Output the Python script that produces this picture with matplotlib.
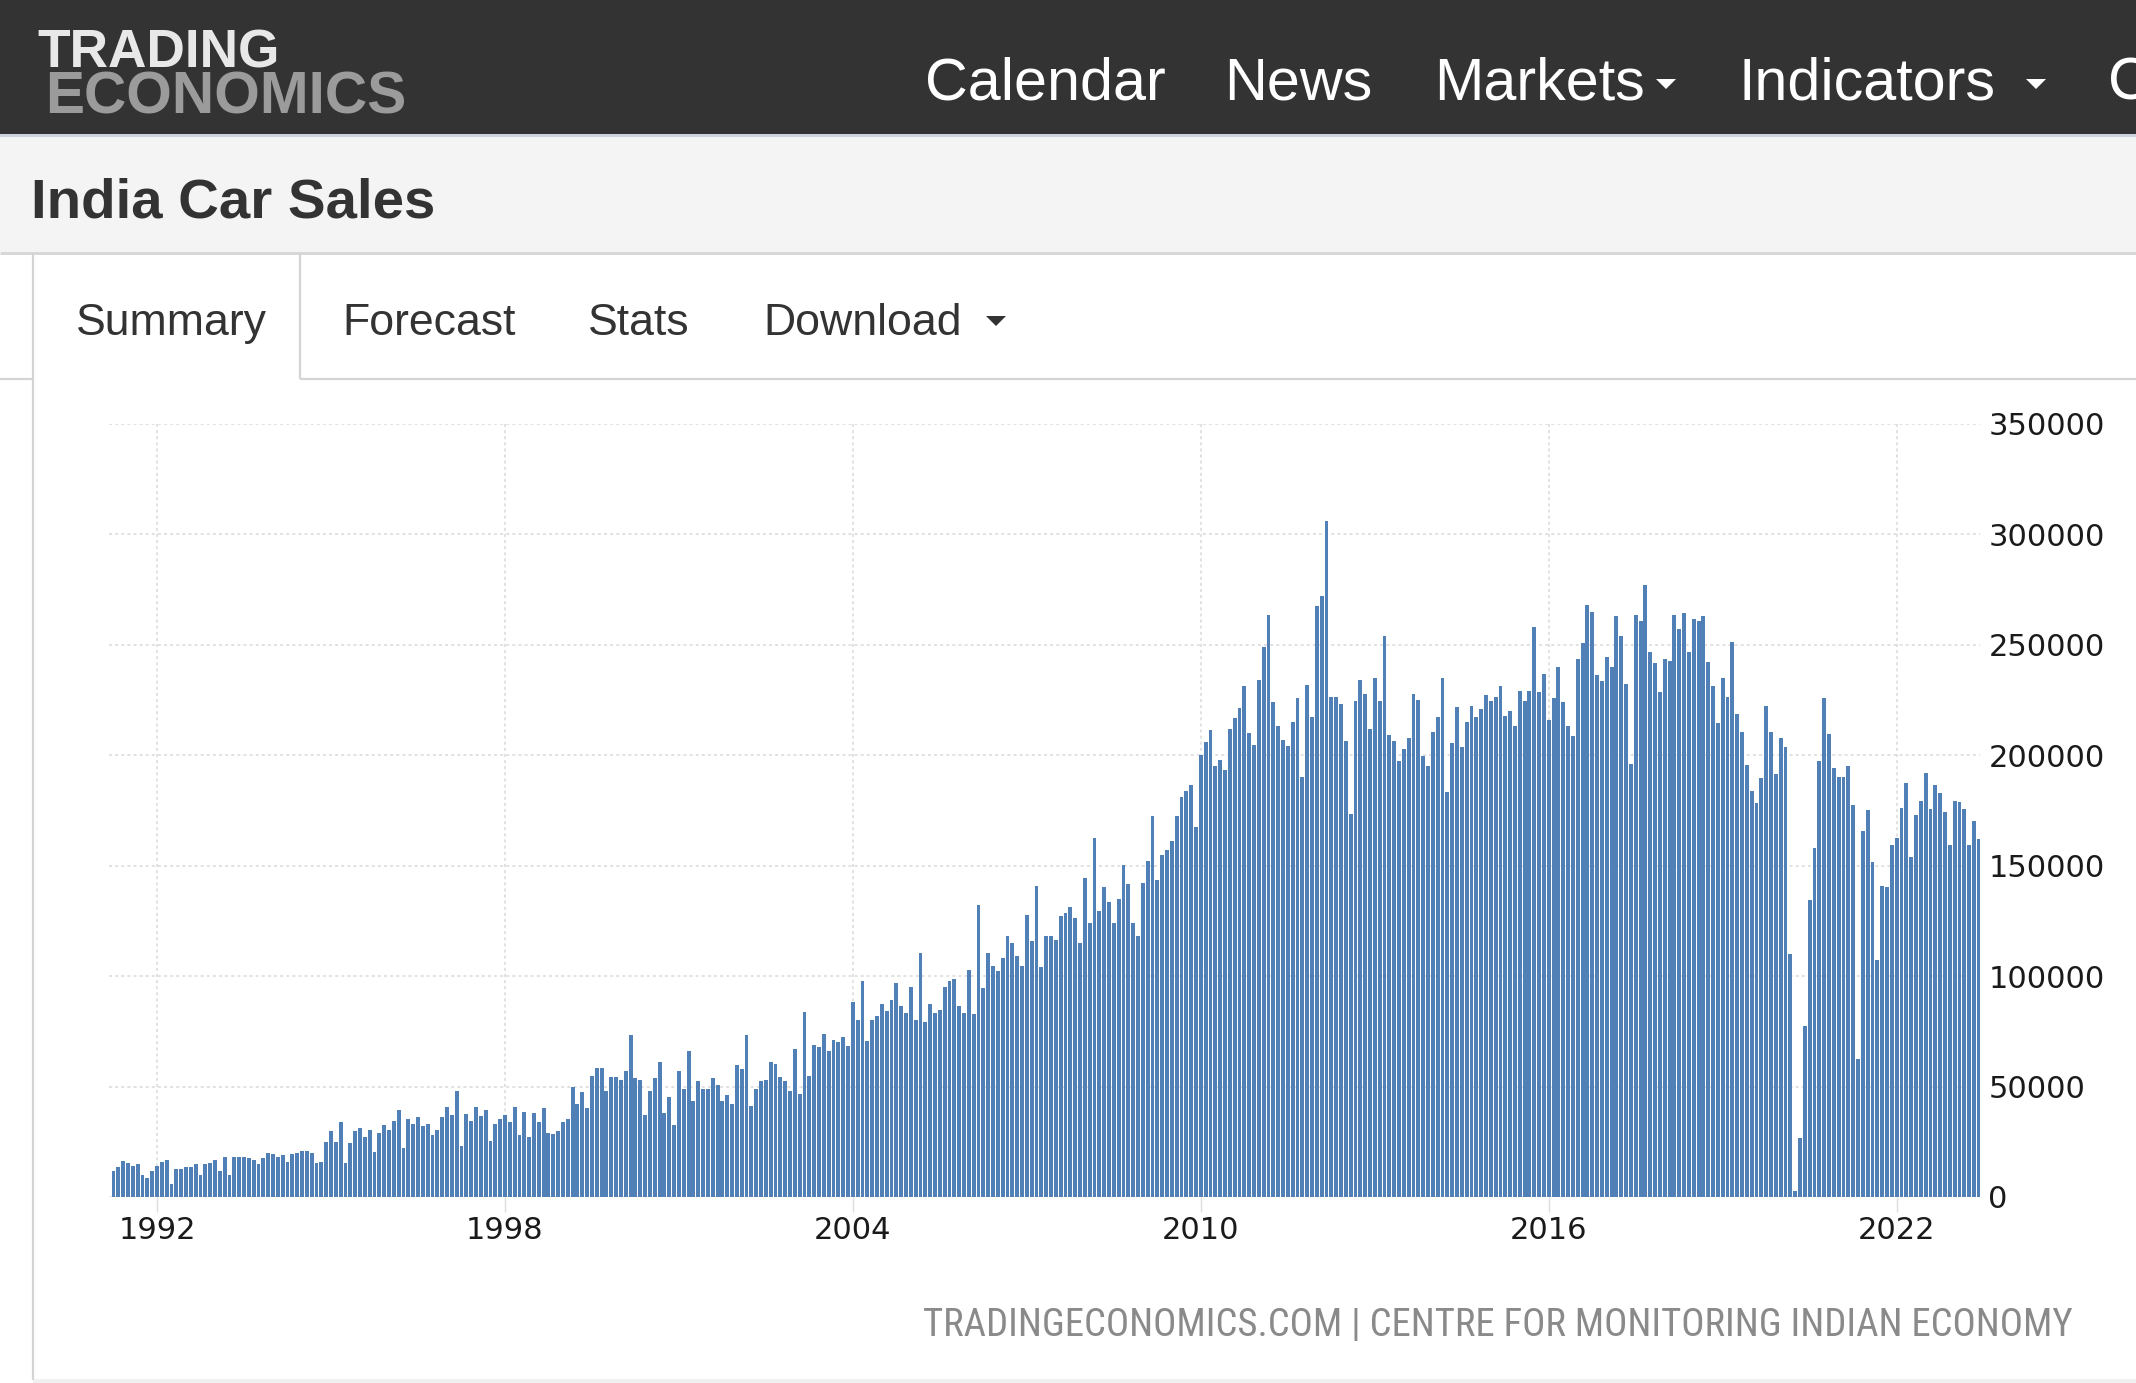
import matplotlib
matplotlib.use("Agg")
import matplotlib.pyplot as plt
from matplotlib.patches import Rectangle, Polygon
from matplotlib import font_manager
import pandas as pd

W, H = 2136, 1383

# ---------------- data ----------------
start_month = "1991-04-01"
sales = [
    11900, 13400, 16200, 15400, 14200, 14800, 10100, 8800, 11900, 14200, 16000, 16800,
    5800, 12700, 12700, 13400, 13400, 14800, 10100, 14800, 15400, 16800, 11900, 18300,
    10100, 18300, 18300, 18300, 17500, 16800, 14800, 17500, 20100, 19500, 18300, 18800,
    16000, 19500, 20100, 20900, 20900, 20100, 15400, 16000, 25000, 29900, 25000, 33800,
    15400, 24400, 29900, 31100, 27100, 30500, 20300, 29100, 32500, 30500, 34500, 39300,
    22300, 35200, 33200, 36000, 32000, 33200, 27900, 30500, 36000, 40900, 37300, 48200,
    22900, 37800, 34500, 40900, 36600, 39300, 25200, 33200, 35200, 37300, 33800, 40900,
    27900, 38600, 27100, 38000, 33800, 40100, 29100, 28400, 29700, 33800, 35200, 49700,
    42100, 47400, 40100, 54900, 58400, 58400, 48200, 54300, 54300, 52900, 57000, 73300,
    53700, 52900, 37300, 48000, 53700, 61000, 38000, 45400, 32500, 57000, 48800, 66000,
    43400, 52300, 48800, 48800, 53700, 50900, 43400, 46200, 42100, 59800, 57800, 73300,
    41300, 48800, 52300, 52900, 61100, 60400, 54300, 52300, 48000, 66800, 46800, 83700,
    55000, 68600, 68000, 74000, 66000, 71200, 70400, 72400, 68500, 88400, 80000, 98000,
    70600, 80000, 81900, 87200, 84200, 89400, 96700, 86700, 83400, 95300, 80000, 110300,
    79200, 87200, 83400, 84600, 95300, 98000, 98800, 86700, 83400, 102900, 82700, 132400,
    94700, 110300, 104800, 102300, 108100, 118400, 114900, 108900, 104800, 127800, 115800, 140600,
    104200, 118400, 118400, 116300, 127100, 128500, 131200, 126400, 114900, 144300, 124200, 162500,
    129500, 140200, 133600, 124200, 134800, 150300, 141600, 124200, 118200, 142300, 152300, 172400,
    143500, 155000, 156900, 161000, 172400, 181000, 183700, 186400, 167600, 200000, 206000, 211300,
    195300, 197900, 193200, 212000, 216700, 221400, 231500, 210100, 204700, 234200, 248900, 263300,
    224100, 213400, 206800, 204100, 215100, 225800, 190200, 231900, 217200, 267500, 272100, 305900,
    226500, 226500, 223200, 206300, 173300, 224500, 233900, 227900, 211700, 235200, 224500, 254100,
    209000, 206300, 197600, 203000, 207700, 227900, 225200, 199700, 195000, 210400, 217200, 235200,
    183600, 205700, 221800, 203800, 215100, 222400, 217200, 221100, 227100, 224500, 226500, 231200,
    217800, 219900, 213200, 229200, 224700, 229200, 258300, 228600, 236800, 215900, 225900, 240200,
    224000, 213300, 208600, 243500, 250900, 268200, 265000, 236200, 233500, 244300, 240200, 262900,
    254200, 232100, 195900, 263500, 261000, 277100, 246800, 242000, 228600, 243500, 242900, 263500,
    257100, 264300, 246800, 261600, 261000, 262900, 242200, 231500, 214500, 235200, 226500, 251400,
    218500, 210500, 195600, 183700, 178200, 189600, 222400, 210500, 191700, 207800, 203700, 110200,
    2600, 26700, 77400, 134400, 157800, 197600, 225900, 209700, 194200, 190100, 190100, 195100,
    177400, 62600, 165800, 175200, 151700, 107500, 140800, 140300, 159200, 162600, 176000, 187600,
    153900, 172800, 179300, 192200, 175900, 186700, 182800, 174500, 159200, 179300, 178700, 175900,
    159200, 170100, 161900,
]
year_ticks = [1992, 1998, 2004, 2010, 2016, 2022]
year_labels = ["1992", "1998", "2004", "2010", "2016", "2022"]
value_ticks = [0, 50000, 100000, 150000, 200000, 250000, 300000, 350000]
value_labels = ["0", "50000", "100000", "150000", "200000", "250000", "300000", "350000"]

title = "India Car Sales"
logo_lines = ["TRADING", "ECONOMICS"]
nav_items = ["Calendar", "News", "Markets", "Indicators", "C"]
tab_items = ["Summary", "Forecast", "Stats", "Download"]
source = "TRADINGECONOMICS.COM | CENTRE FOR MONITORING INDIAN ECONOMY"

dates = pd.date_range(start_month, periods=len(sales), freq="MS")
xs = dates.year + (dates.month - 1) / 12.0

# ---------------- fonts ----------------
available = {f.name for f in font_manager.fontManager.ttflist}


def pick(*names):
    for n in names:
        if n in available:
            return n
    return "DejaVu Sans"


sans = pick("Liberation Sans", "Arimo", "Roboto", "DejaVu Sans")
narrow = pick("Liberation Sans Narrow", "Roboto Condensed", "DejaVu Sans Condensed", sans)

# ---------------- figure & page chrome ----------------
fig = plt.figure(figsize=(W / 100, H / 100), dpi=100, facecolor="white")
bg = fig.add_axes([0, 0, 1, 1])
bg.set_xlim(0, W)
bg.set_ylim(H, 0)
bg.axis("off")
renderer = fig.canvas.get_renderer()


def rect(x, y, w, h, color):
    bg.add_patch(Rectangle((x, y), w, h, facecolor=color, edgecolor="none", zorder=1))


def hline(y, x0, x1, color="#d4d4d4", lw=1.6):
    bg.plot([x0, x1], [y, y], color=color, lw=lw, zorder=2, solid_capstyle="butt")


def vline(x, y0, y1, color="#d4d4d4", lw=1.6):
    bg.plot([x, x], [y0, y1], color=color, lw=lw, zorder=2, solid_capstyle="butt")


def fit(x, y, s, width, family, weight="normal", color="#333333", size=None):
    t = bg.text(x, y, s, fontsize=30, family=family, weight=weight, color=color,
                ha="left", va="baseline", zorder=5)
    if size is None:
        w = t.get_window_extent(renderer).width
        size = 30 * width / w
    t.set_fontsize(size)
    return size


def tri(cx, cy, w, h, color):
    bg.add_patch(Polygon([(cx - w / 2, cy - h / 2), (cx + w / 2, cy - h / 2), (cx, cy + h / 2)],
                         closed=True, facecolor=color, edgecolor="none", zorder=5))


# header
rect(0, 0, W, 134, "#333333")
rect(0, 134, W, 3, "#cdd3dc")
rect(0, 137, W, 115, "#f4f4f4")
hline(252.5, 0, W, "#d6d6d6", 2)

# logo
fit(37, 67, logo_lines[0], 242, sans, weight="bold", color="#e8e8e8")
fit(45, 114, logo_lines[1], 361, sans, weight="bold", color="#9b9b9b")

# nav
nav_x = [925, 1224, 1434, 1739, 2108]
nav_size = fit(nav_x[0], 99, nav_items[0], 240, sans, color="white")
for x, s in zip(nav_x[1:], nav_items[1:]):
    fit(x, 99, s, None, sans, color="white", size=nav_size)
tri(1666, 84, 20, 10, "white")
tri(2036, 84, 20, 10, "white")

# title
fit(31, 218, title, 405, sans, weight="bold", color="#333333")

# tabs
tab_x = [76, 342, 588, 763]
tab_size = fit(tab_x[0], 335, tab_items[0], 191, sans, color="#333333")
for x, s in zip(tab_x[1:], tab_items[1:]):
    fit(x, 335, s, None, sans, color="#333333", size=tab_size)
tri(996, 321, 20, 10, "#333333")

vline(33, 253, 1380)
vline(300, 253, 379)
hline(379, 0, 33)
hline(379, 300, W)
rect(33, 1379, W, 4, "#f0f0f0")

# source
fit(923, 1336, source, 1149, narrow, color="#8a8a8a")

# ---------------- chart ----------------
x_left_px, x_right_px = 109, 1980
y_bot_px, y_top_px = 1197, 424
ax = fig.add_axes([x_left_px / W, 1 - y_bot_px / H,
                   (x_right_px - x_left_px) / W, (y_bot_px - y_top_px) / H])
ax.set_facecolor("none")
ax.bar(xs, sales, width=0.8 / 12, color="#5180b7", linewidth=0, zorder=3)

px_per_year = (1896.7 - 157) / 30.0
ax.set_xlim(1992 + (x_left_px - 157) / px_per_year, 1992 + (x_right_px - 157) / px_per_year)
ax.set_ylim(0, 350000)

ax.set_xticks(year_ticks)
ax.set_xticklabels(year_labels, family="DejaVu Sans", fontsize=22, color="#1a1a1a")
ax.yaxis.tick_right()
ax.set_yticks(value_ticks)
ax.set_yticklabels(value_labels, family="DejaVu Sans", fontsize=22, color="#1a1a1a")

ax.grid(True, color="#dadada", linestyle=(0, (2, 2)), linewidth=1.1, zorder=0)
ax.set_axisbelow(True)
for sp in ax.spines.values():
    sp.set_visible(False)
ax.tick_params(axis="y", length=0, pad=6)
ax.tick_params(axis="x", length=11, width=1, color="#dddddd", pad=3)

fig.savefig("out.png", dpi=100, facecolor="white")
